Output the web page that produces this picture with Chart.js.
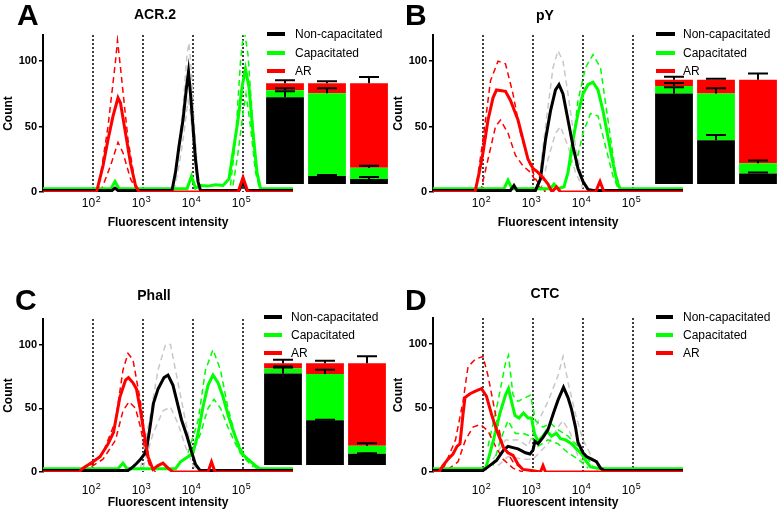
<!DOCTYPE html>
<html><head><meta charset="utf-8">
<script src="https://cdn.jsdelivr.net/npm/chart.js@4.4.1/dist/chart.umd.min.js"></script>
<style>
html,body{margin:0;padding:0;background:#fff;width:778px;height:512px;overflow:hidden;font-family:"Liberation Sans",Arial,sans-serif;color:#000;}
canvas{position:absolute;}
.abs{position:absolute;white-space:nowrap;}
.letter{font-weight:bold;font-size:30px;line-height:30px;}
.title{font-weight:bold;font-size:14px;line-height:16px;transform:translateX(-50%);}
.leg{font-size:12px;line-height:14px;}
.sw{position:absolute;height:4px;}
</style></head><body>
<canvas id="hA" width="390" height="256" style="left:0;top:0"></canvas>
<canvas id="hB" width="388" height="256" style="left:390px;top:0"></canvas>
<canvas id="hC" width="390" height="256" style="left:0;top:256px"></canvas>
<canvas id="hD" width="388" height="256" style="left:390px;top:256px"></canvas>
<canvas id="bA" width="126" height="121" style="left:264px;top:63px"></canvas>
<canvas id="bB" width="126" height="125" style="left:653px;top:59px"></canvas>
<canvas id="bC" width="126" height="122" style="left:262px;top:343px"></canvas>
<div id="overlay"></div>
<script>
// ---------- shared labels ----------
const seriesNames = ['Non-capacitated', 'Capacitated', 'AR'];
const panelTitles = ['ACR.2', 'pY', 'Phall', 'CTC'];
const panelLetters = ['A', 'B', 'C', 'D'];
const gateLines = [1e2, 1e3, 1e4, 1e5];
const xTickValues = [1e2, 1e3, 1e4, 1e5];
const xTickBase = '10';
const xTickExp = ['2', '3', '4', '5'];
const yTickValues = [0, 50, 100];

// ---------- histograms: [log10 intensity, count] ----------
// Panel A: ACR.2
const acrNonCap = [[1,1.2],[2.38,1.2],[2.44,3],[2.5,1.2],[3.58,1.2],[3.65,15],[3.72,35],[3.8,55],[3.87,80],[3.91,92],[3.95,75],[4.0,50],[4.05,25],[4.1,8],[4.15,1.2],[4.92,1.2],[5.0,7],[5.08,1.2],[6,1.2]];
const acrNonCapHi = [[3.6,1],[3.7,30],[3.8,65],[3.88,105],[3.92,114],[3.97,90],[4.02,55],[4.08,20],[4.15,1]];
const acrNonCapLo = [[3.62,1],[3.72,20],[3.82,45],[3.9,70],[3.95,60],[4.0,40],[4.06,15],[4.13,1]];
const acrCap = [[1,2.5],[2.36,2.5],[2.44,8],[2.52,2.5],[3.88,2.5],[3.97,12],[4.05,3],[4.15,5],[4.3,4.5],[4.45,5.5],[4.6,5],[4.72,10],[4.8,30],[4.9,55],[4.98,80],[5.05,94],[5.12,80],[5.2,45],[5.28,15],[5.35,2.5],[6,2.5]];
const acrCapHi = [[4.75,5],[4.85,40],[4.95,100],[5.02,125],[5.1,105],[5.2,50],[5.28,12],[5.35,3]];
const acrCapLo = [[4.8,5],[4.9,30],[5.0,60],[5.06,75],[5.15,50],[5.25,15],[5.33,3]];
const acrAR = [[1,0],[2.07,0],[2.2,20],[2.3,40],[2.4,58],[2.5,72],[2.55,68],[2.65,45],[2.75,22],[2.85,5],[2.92,0],[4.9,0],[5.0,11],[5.1,0],[6,0]];
const acrARHi = [[2.1,0],[2.3,50],[2.45,100],[2.49,116],[2.55,95],[2.7,40],[2.85,5],[2.92,0]];
const acrARLo = [[2.15,0],[2.35,20],[2.5,38],[2.6,30],[2.75,10],[2.9,0]];

// Panel B: pY
const pyNonCap = [[1,1.2],[2.55,1.2],[2.62,5],[2.68,1.2],[3.05,1.2],[3.15,10],[3.25,40],[3.35,62],[3.45,78],[3.52,82],[3.6,75],[3.7,55],[3.8,35],[3.9,18],[4.0,8],[4.1,2],[4.2,1.2],[6,1.2]];
const pyNonCapHi = [[3.1,3],[3.25,50],[3.4,95],[3.5,108],[3.6,100],[3.7,75],[3.85,35],[4.0,8],[4.1,1]];
const pyNonCapLo = [[3.15,1],[3.3,25],[3.45,45],[3.55,50],[3.7,35],[3.85,15],[4.0,3]];
const pyCap = [[1,2.5],[2.42,2.5],[2.5,9],[2.58,2.5],[3.35,2.5],[3.42,6],[3.5,2.5],[3.62,4],[3.7,15],[3.8,40],[3.9,60],[4.0,75],[4.1,82],[4.2,84],[4.3,78],[4.4,62],[4.5,42],[4.6,22],[4.68,8],[4.74,2.5],[6,2.5]];
const pyCapHi = [[3.75,20],[3.9,70],[4.05,95],[4.2,105],[4.35,95],[4.5,55],[4.65,15],[4.75,3]];
const pyCapLo = [[3.85,20],[4.0,45],[4.15,60],[4.3,58],[4.45,35],[4.6,12],[4.7,3]];
const pyAR = [[1,0],[1.84,0],[1.92,14],[2.0,30],[2.1,55],[2.2,72],[2.27,78],[2.45,77],[2.55,70],[2.6,65],[2.7,55],[2.8,40],[2.9,25],[3.0,18],[3.1,15],[3.2,11],[3.3,6],[3.38,0],[3.47,4],[3.55,0],[4.25,0],[4.34,8],[4.42,0],[6,0]];
const pyARHi = [[1.85,0],[2.0,40],[2.15,85],[2.3,100],[2.45,98],[2.6,75],[2.75,45],[2.9,25],[3.05,10],[3.2,2],[3.3,0]];
const pyARLo = [[1.95,0],[2.1,25],[2.25,50],[2.35,55],[2.5,45],[2.65,28],[2.8,20],[2.95,15],[3.1,5],[3.25,0]];

// Panel C: Phall
const phNonCap = [[1,1.2],[2.7,1.2],[2.8,4],[2.88,7],[2.95,10],[3.03,14],[3.08,20],[3.14,35],[3.21,54],[3.3,65],[3.42,74],[3.5,76],[3.6,68],[3.7,52],[3.77,41],[3.88,28],[3.97,16],[4.05,6],[4.14,1.2],[6,1.2]];
const phNonCapHi = [[2.95,3],[3.15,45],[3.3,80],[3.45,100],[3.55,100],[3.7,70],[3.85,40],[4.0,12],[4.1,2]];
const phNonCapLo = [[3.0,3],[3.2,30],[3.4,48],[3.55,51],[3.7,38],[3.85,20],[4.0,5],[4.1,1]];
const phCap = [[1,2.5],[2.5,2.5],[2.6,7],[2.68,2.5],[3.65,2.5],[3.75,8],[3.9,12],[4.0,15],[4.1,30],[4.2,51],[4.3,68],[4.4,76],[4.5,70],[4.6,59],[4.7,45],[4.8,33],[4.9,22],[4.96,15],[5.1,10],[5.25,5],[5.34,2.5],[6,2.5]];
const phCapHi = [[3.9,15],[4.1,40],[4.25,80],[4.4,96],[4.55,80],[4.7,50],[4.85,28],[5.0,15],[5.2,5],[5.3,2]];
const phCapLo = [[3.95,12],[4.15,30],[4.3,50],[4.42,57],[4.55,50],[4.7,35],[4.85,22],[5.0,12],[5.2,4]];
const phAR = [[1,0],[1.72,0],[1.8,3],[2.0,8],[2.14,12],[2.3,22],[2.41,31],[2.54,59],[2.65,72],[2.71,74],[2.8,70],[2.87,65],[2.95,48],[3.01,33],[3.1,12],[3.2,2],[3.3,5],[3.4,7],[3.5,3],[3.6,0],[4.3,0],[4.37,8],[4.44,0],[6,0]];
const phARHi = [[1.8,0],[2.2,15],[2.45,40],[2.6,80],[2.7,93],[2.8,88],[2.95,55],[3.05,25],[3.15,5],[3.25,0]];
const phARLo = [[1.8,0],[2.2,10],[2.45,25],[2.6,48],[2.72,55],[2.85,50],[2.95,35],[3.05,15],[3.15,3]];

// Panel D: CTC
const ctcNonCap = [[1,1.2],[2.0,1.2],[2.1,4],[2.27,9],[2.41,17],[2.5,20],[2.6,19],[2.7,18],[2.85,15],[2.94,14],[3.0,17],[3.04,24],[3.1,22],[3.2,27],[3.3,33],[3.41,46],[3.5,56],[3.61,66],[3.7,58],[3.77,49],[3.85,35],[3.9,23],[4.0,15],[4.07,12],[4.17,10],[4.27,8],[4.35,3],[4.42,1.2],[6,1.2]];
const ctcNonCapHi = [[2.2,10],[2.45,25],[2.7,25],[2.9,20],[3.05,35],[3.3,55],[3.5,75],[3.6,90],[3.7,70],[3.85,45],[4.0,25],[4.2,10],[4.4,2]];
const ctcNonCapLo = [[2.3,5],[2.5,12],[2.8,10],[3.0,10],[3.3,22],[3.5,35],[3.6,40],[3.75,30],[3.9,12],[4.1,5],[4.3,1]];
const ctcCap = [[1,2.5],[2.05,2.5],[2.12,12],[2.21,25],[2.34,46],[2.45,60],[2.51,65],[2.57,55],[2.64,44],[2.72,42],[2.81,46],[2.9,42],[2.97,42],[3.03,30],[3.1,24],[3.2,28],[3.27,32],[3.37,28],[3.47,30],[3.55,26],[3.65,25],[3.77,22],[3.87,18],[3.97,14],[4.07,8],[4.15,4],[4.3,3],[4.45,2.5],[6,2.5]];
const ctcCapHi = [[2.1,20],[2.3,55],[2.45,85],[2.51,91],[2.6,60],[2.7,55],[2.85,58],[2.95,60],[3.05,40],[3.2,35],[3.35,38],[3.5,33],[3.7,28],[3.9,20],[4.0,15],[4.2,5]];
const ctcCapLo = [[2.2,5],[2.35,25],[2.5,40],[2.65,30],[2.8,30],[2.95,28],[3.1,20],[3.3,25],[3.5,22],[3.7,15],[3.9,10],[4.1,3]];
const ctcAR = [[1,0],[1.12,0],[1.2,5],[1.3,10],[1.4,14],[1.48,20],[1.54,22],[1.6,45],[1.64,58],[1.74,61],[1.85,63],[1.97,65],[2.07,59],[2.17,45],[2.27,33],[2.41,19],[2.5,15],[2.6,13],[2.7,6],[2.8,2],[3.0,1],[3.15,0],[3.2,5],[3.25,0],[6,0]];
const ctcARHi = [[1.2,2],[1.45,25],[1.6,55],[1.7,82],[1.85,88],[2.0,90],[2.1,75],[2.25,45],[2.4,20],[2.6,8],[2.8,2]];
const ctcARLo = [[1.3,2],[1.5,8],[1.65,25],[1.8,35],[1.95,37],[2.1,32],[2.25,20],[2.4,10],[2.6,3],[2.8,0]];

// ---------- inset stacked bars (% of cells), categories = sample groups ----------
const barGroups = ['Non-capacitated', 'Capacitated', 'AR'];
const acrBarNonCap = [86, 8, 5];
const acrBarCap = [7, 82, 11];
const acrBarAR = [7, 10, 84];
const acrErrNonCap = [6, 1, 2];
const acrErrCap = [2, 5, 2];
const acrErrAR = [3, 2, 6];

const pyBarNonCap = [87, 42, 10];
const pyBarCap = [7, 45, 10];
const pyBarAR = [6, 13, 80];
const pyErrNonCap = [6, 5, 1];
const pyErrCap = [3, 5, 2.5];
const pyErrAR = [3, 1, 6];

const phBarNonCap = [90, 44, 11];
const phBarCap = [5, 45.5, 8];
const phBarAR = [5, 10.5, 81];
const phErrNonCap = [6, 0.5, 0.5];
const phErrCap = [2, 4.3, 2.5];
const phErrAR = [3.5, 2.6, 7];

// ---------- styling ----------
const FONT = '"Liberation Sans", Arial, sans-serif';
const BLACK = '#000000', GREEN = '#00ff00', RED = '#ff0000', GREY = '#c8c8c8';
const seriesColors = [BLACK, GREEN, RED];

function pts(arr) { return arr.map(p => ({ x: Math.pow(10, p[0]), y: p[1] })); }
function solid(arr, c) { return { data: pts(arr), borderColor: c, borderWidth: 3, pointRadius: 0, tension: 0, fill: false }; }
function dashed(arr, c) { return { data: pts(arr), borderColor: c, borderWidth: 1.5, borderDash: [6, 4], pointRadius: 0, tension: 0, fill: false }; }

const gatePlugin = {
  id: 'gates',
  beforeDatasetsDraw(chart) {
    const { ctx, chartArea: a, scales: { x } } = chart;
    ctx.save();
    ctx.strokeStyle = '#000'; ctx.lineWidth = 1.5; ctx.setLineDash([2, 2]);
    gateLines.forEach(v => {
      const px = Math.round(x.getPixelForValue(v));
      ctx.beginPath(); ctx.moveTo(px, a.top); ctx.lineTo(px, a.bottom); ctx.stroke();
    });
    ctx.restore();
  }
};

// x tick labels as "10" with a raised exponent, placed through the x scale
const xLabelPlugin = {
  id: 'xlabels',
  afterDraw(chart, args, opts) {
    const { ctx, chartArea: a, scales: { x } } = chart;
    ctx.save();
    ctx.fillStyle = '#000'; ctx.textBaseline = 'alphabetic'; ctx.textAlign = 'left';
    xTickValues.forEach((v, i) => {
      const px = x.getPixelForValue(v);
      ctx.font = '12px ' + FONT; const wb = ctx.measureText(xTickBase).width;
      ctx.font = '9px ' + FONT; const we = ctx.measureText(xTickExp[i]).width;
      const x0 = px - (wb + we) / 2 - 2;
      const yb = a.bottom + opts.base;
      ctx.font = '12px ' + FONT; ctx.fillText(xTickBase, x0, yb);
      ctx.font = '9px ' + FONT; ctx.fillText(xTickExp[i], x0 + wb + 0.5, yb - 5);
    });
    ctx.restore();
  }
};

function makeHist(id, s, g) {
  const el = document.getElementById(id);
  const datasets = [
    solid(s.ar, RED), solid(s.nc, BLACK), solid(s.cap, GREEN),
    dashed(s.arHi, RED), dashed(s.arLo, RED),
    dashed(s.capHi, GREEN), dashed(s.capLo, GREEN),
    dashed(s.ncHi, GREY), dashed(s.ncLo, GREY)
  ];
  new Chart(el, {
    type: 'line',
    data: { datasets },
    options: {
      animation: false, responsive: false, devicePixelRatio: 1,
      layout: { padding: { top: g.top, right: el.width - 293, bottom: 0, left: 0 } },
      plugins: { legend: { display: false }, tooltip: { enabled: false }, xlabels: { base: g.base } },
      scales: {
        x: {
          type: 'logarithmic', min: 10, max: 1e6,
          afterFit(sc) { sc.height = g.axisH; },
          afterBuildTicks(sc) { sc.ticks = xTickValues.map(v => ({ value: v })); },
          ticks: { display: false },
          grid: { display: false, drawTicks: false }, border: { display: false },
          title: { display: true, text: 'Fluorescent intensity', color: '#000', font: { family: FONT, size: 12, weight: 'bold' }, padding: { top: 0, bottom: g.titlePad } }
        },
        y: {
          min: 0, max: 120,
          afterFit(sc) { sc.width = 43; },
          afterBuildTicks(sc) { sc.ticks = yTickValues.map(v => ({ value: v })); },
          ticks: { color: '#000', font: { family: FONT, size: 11, weight: 'bold' }, padding: 2 },
          grid: { drawOnChartArea: false, drawTicks: true, tickLength: 4, color: '#000', lineWidth: 1.5 },
          border: { display: true, color: '#000', width: 2 },
          title: { display: true, text: 'Count', color: '#000', font: { family: FONT, size: 12, weight: 'bold' }, padding: { top: 1, bottom: 0 } }
        }
      }
    },
    plugins: [gatePlugin, xLabelPlugin]
  });
}

const errPlugin = {
  id: 'errbars',
  afterDatasetsDraw(chart) {
    const { ctx, scales: { y } } = chart;
    ctx.save(); ctx.strokeStyle = '#000'; ctx.lineWidth = 2;
    const ds = chart.data.datasets;
    ds.forEach((d, di) => {
      const meta = chart.getDatasetMeta(di);
      meta.data.forEach((bar, i) => {
        let cum = 0;
        for (let k = 0; k <= di; k++) cum += ds[k].data[i];
        const y0 = y.getPixelForValue(cum), y1 = y.getPixelForValue(cum + d.err[i]);
        ctx.beginPath();
        ctx.moveTo(bar.x, y0); ctx.lineTo(bar.x, y1);
        ctx.moveTo(bar.x - 10, y1); ctx.lineTo(bar.x + 10, y1);
        ctx.stroke();
      });
    });
    ctx.restore();
  }
};

function makeBars(id, nc, cap, ar, eNc, eCap, eAr) {
  const mk = (lab, data, c, err) => ({ label: lab, data, err, backgroundColor: c, borderWidth: 0, barPercentage: 0.9, categoryPercentage: 1, stack: 's' });
  new Chart(document.getElementById(id), {
    type: 'bar',
    data: { labels: barGroups, datasets: [mk(seriesNames[0], nc, BLACK, eNc), mk(seriesNames[1], cap, GREEN, eCap), mk(seriesNames[2], ar, RED, eAr)] },
    options: {
      animation: false, responsive: false, devicePixelRatio: 1,
      layout: { padding: 0 },
      plugins: { legend: { display: false }, tooltip: { enabled: false } },
      scales: { x: { display: false, stacked: true }, y: { display: false, stacked: true, min: 0, max: 120 } }
    },
    plugins: [errPlugin]
  });
}

makeHist('hA', { nc: acrNonCap, ncHi: acrNonCapHi, ncLo: acrNonCapLo, cap: acrCap, capHi: acrCapHi, capLo: acrCapLo, ar: acrAR, arHi: acrARHi, arLo: acrARLo }, { top: 35, axisH: 64, base: 15, titlePad: 26 });
makeHist('hB', { nc: pyNonCap, ncHi: pyNonCapHi, ncLo: pyNonCapLo, cap: pyCap, capHi: pyCapHi, capLo: pyCapLo, ar: pyAR, arHi: pyARHi, arLo: pyARLo }, { top: 35, axisH: 64, base: 15, titlePad: 26 });
makeHist('hC', { nc: phNonCap, ncHi: phNonCapHi, ncLo: phNonCapLo, cap: phCap, capHi: phCapHi, capLo: phCapLo, ar: phAR, arHi: phARHi, arLo: phARLo }, { top: 63, axisH: 40, base: 22, titlePad: 2 });
makeHist('hD', { nc: ctcNonCap, ncHi: ctcNonCapHi, ncLo: ctcNonCapLo, cap: ctcCap, capHi: ctcCapHi, capLo: ctcCapLo, ar: ctcAR, arHi: ctcARHi, arLo: ctcARLo }, { top: 62, axisH: 40, base: 22, titlePad: 2 });

makeBars('bA', acrBarNonCap, acrBarCap, acrBarAR, acrErrNonCap, acrErrCap, acrErrAR);
makeBars('bB', pyBarNonCap, pyBarCap, pyBarAR, pyErrNonCap, pyErrCap, pyErrAR);
makeBars('bC', phBarNonCap, phBarCap, phBarAR, phErrNonCap, phErrCap, phErrAR);

// ---------- text overlays: panel letters, titles, legends ----------
const ov = document.getElementById('overlay');
function addDiv(cls, text, left, top) {
  const d = document.createElement('div');
  d.className = 'abs ' + cls; d.textContent = text;
  d.style.left = left + 'px'; d.style.top = top + 'px';
  ov.appendChild(d); return d;
}
const letterPos = [[17, 0], [405, 0], [15, 285], [405, 285]];
const titlePos = [[155, 6], [545, 7], [154, 287], [545, 285]];
panelLetters.forEach((t, i) => addDiv('letter', t, letterPos[i][0], letterPos[i][1]));
panelTitles.forEach((t, i) => addDiv('title', t, titlePos[i][0], titlePos[i][1]));
const legendPos = [
  { sx: 267, sw: 18, tx: 295, ys: [34, 53, 71] },
  { sx: 656, sw: 19, tx: 683, ys: [34, 53, 71] },
  { sx: 264, sw: 18, tx: 291, ys: [317, 335, 353] },
  { sx: 656, sw: 17, tx: 683, ys: [317, 335, 353] }
];
legendPos.forEach(L => {
  seriesNames.forEach((n, k) => {
    const sw = document.createElement('div');
    sw.className = 'sw';
    sw.style.left = L.sx + 'px'; sw.style.top = (L.ys[k] - 2) + 'px';
    sw.style.width = L.sw + 'px'; sw.style.background = seriesColors[k];
    ov.appendChild(sw);
    addDiv('leg', n, L.tx, L.ys[k] - 7);
  });
});
</script>
</body></html>
